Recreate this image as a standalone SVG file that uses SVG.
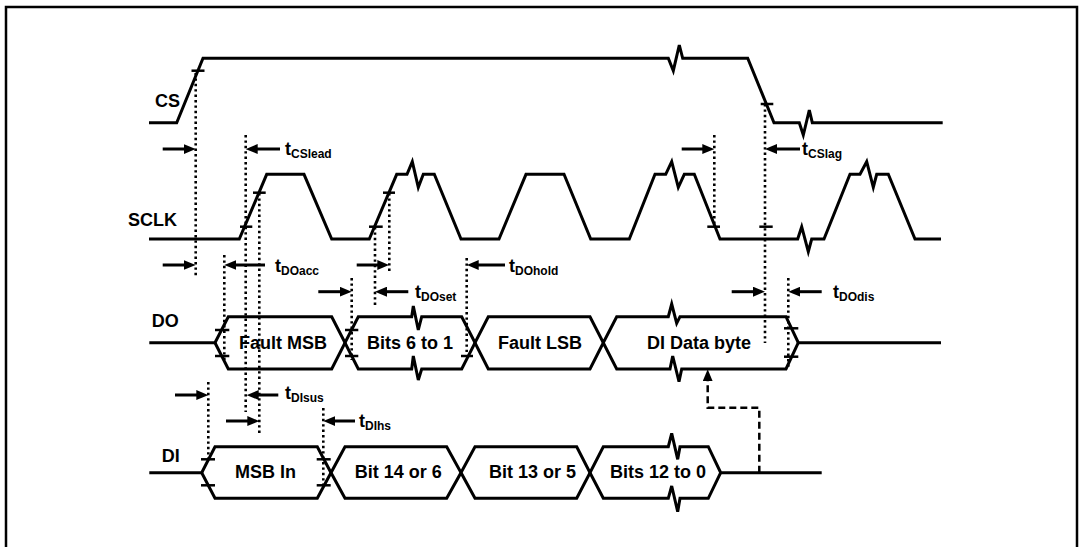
<svg xmlns="http://www.w3.org/2000/svg" width="1080" height="547" viewBox="0 0 1080 547">
<style>
.sig{fill:none;stroke:#000;stroke-width:3;stroke-linejoin:miter}
.tick{stroke:#000;stroke-width:2.5}
.dot{stroke:#000;stroke-width:2.6;stroke-dasharray:2.4 3;fill:none}
.arr{stroke:#000;stroke-width:3;marker-end:url(#ah)}
.dash{fill:none;stroke:#000;stroke-width:2.5;stroke-dasharray:7 4;marker-end:url(#ah)}
.lbl{font-family:"Liberation Sans",Arial,sans-serif;font-weight:bold;font-size:18px;fill:#000}
.box{font-family:"Liberation Sans",Arial,sans-serif;font-weight:bold;font-size:18px;fill:#000;text-anchor:middle}
.sub{font-size:12px}
</style>
<defs>
<marker id="ah" viewBox="0 0 12 10" refX="4" refY="5" markerWidth="12" markerHeight="10" markerUnits="userSpaceOnUse" orient="auto">
<path d="M0,0 L12,5 L0,10 z" fill="#000"/>
</marker>
</defs>
<rect width="1080" height="547" fill="#fff"/>
<path d="M6,548 V7 H1077 V548" fill="none" stroke="#000" stroke-width="2.5"/>

<g id="cs">
<path class="sig" d="M149,122.7 H176.7 L203,58.3 H668.3 L673.3,70.7 L679.3,45 L682.7,58.3 H747.7 L774,122.7 H799.3 L803.3,135 L809.3,110 L812.3,122.7 H942.7"/>
<line class="tick" x1="191.5" y1="70.7" x2="204.5" y2="70.7"/>
<line class="tick" x1="760.7" y1="104" x2="773.3" y2="104"/>
<text class="lbl" x="155" y="107">CS</text>
</g>

<g id="sclk">
<path class="sig" d="M149,239 H239.3 L266.7,174.3 H304 L331.7,239 H369.3 L396.7,174.3 H407 L412.3,161.7 L418.3,187.3 L423.3,174.3 H434.3 L461,239 H499 L526,174.3 H564 L590.7,239 H629.3 L655,174.3 H665.7 L671.7,161.7 L678.3,187.3 L684.3,174.3 H694.3 L720,239 H797.7 L801.7,226.7 L808.3,251.7 L811.7,239 H824 L850,174.3 H860 L866.7,161.7 L873.3,187.3 L876.7,174.3 H888.3 L915,239 H941"/>
<line class="tick" x1="240" y1="226.7" x2="252.3" y2="226.7"/>
<line class="tick" x1="253" y1="192.7" x2="265.7" y2="192.7"/>
<line class="tick" x1="369" y1="226.7" x2="382.7" y2="226.7"/>
<line class="tick" x1="383" y1="192.7" x2="395" y2="192.7"/>
<line class="tick" x1="707.3" y1="226.7" x2="720" y2="226.7"/>
<line class="tick" x1="759.3" y1="226.7" x2="772.7" y2="226.7"/>
<text class="lbl" x="128" y="226">SCLK</text>
</g>

<g id="do">
<path class="sig" d="M149.3,342.7 H215 L228.3,316.7 H331.7 L345,342.7 L358.3,316.7 H411.7 L413.3,306 L418.3,330 L421.7,316.7 H461.7 L475,342.7 L488.3,316.7 H590 L603.3,342.7 L616.7,316.7 H668.3 L671.7,304 L676.7,323.3 L680,316.7 H786 L798.3,342.7 H941"/>
<path class="sig" d="M215,342.7 L228.3,369 H331.7 L345,342.7 L358.3,369 H411.7 L413.3,356 L418.3,380 L421.7,369 H461.7 L475,342.7 L488.3,369 H590 L603.3,342.7 L616.7,369 H670 L672.7,356 L679,381.7 L681.7,369 H786 L798.3,342.7"/>
<line class="tick" x1="215" y1="330" x2="229.3" y2="330"/>
<line class="tick" x1="215" y1="356" x2="229.3" y2="356"/>
<line class="tick" x1="345" y1="330" x2="358.3" y2="330"/>
<line class="tick" x1="345" y1="356" x2="358.3" y2="356"/>
<line class="tick" x1="461" y1="356" x2="473" y2="356"/>
<line class="tick" x1="784" y1="328.3" x2="798.3" y2="328.3"/>
<line class="tick" x1="784" y1="356.7" x2="798.3" y2="356.7"/>
<text class="lbl" x="151.7" y="326.7">DO</text>
<text class="box" x="283" y="348.5">Fault MSB</text>
<text class="box" x="410" y="348.5">Bits 6 to 1</text>
<text class="box" x="540" y="348.5">Fault LSB</text>
<text class="box" x="699" y="348.5">DI Data byte</text>
</g>

<g id="di">
<path class="sig" d="M149.3,472.7 H201.7 L215,446.7 H317.3 L331,472.7 L345,446.7 H446.7 L461,472.7 L475,446.7 H576.7 L590,472.7 L603.3,446.7 H668.3 L671.7,433.3 L677.7,459.3 L680,446.7 H708.3 L720.7,472.7 H821.7"/>
<path class="sig" d="M201.7,472.7 L215,498.3 H317.3 L331,472.7 L345,498.3 H446.7 L461,472.7 L475,498.3 H576.7 L590,472.7 L603.3,498.3 H668.3 L671.7,486 L677.7,511.7 L680,498.3 H708.3 L720.7,472.7"/>
<line class="tick" x1="201" y1="459.3" x2="215" y2="459.3"/>
<line class="tick" x1="201" y1="485.3" x2="215" y2="485.3"/>
<line class="tick" x1="316.7" y1="459.3" x2="330.7" y2="459.3"/>
<line class="tick" x1="316.7" y1="485.3" x2="330.7" y2="485.3"/>
<text class="lbl" x="161.7" y="461.7">DI</text>
<text class="box" x="265.5" y="477.5">MSB In</text>
<text class="box" x="398.3" y="477.5">Bit 14 or 6</text>
<text class="box" x="532.5" y="477.5">Bit 13 or 5</text>
<text class="box" x="658" y="477.5">Bits 12 to 0</text>
</g>

<g id="connectors">
<line class="dot" x1="195.7" y1="73" x2="195.7" y2="278"/>
<line class="dot" x1="245.7" y1="135" x2="245.7" y2="412"/>
<line class="dot" x1="259.3" y1="193" x2="259.3" y2="435"/>
<line class="dot" x1="224.3" y1="255" x2="224.3" y2="360"/>
<line class="dot" x1="351.7" y1="278" x2="351.7" y2="360"/>
<line class="dot" x1="375" y1="227" x2="375" y2="305"/>
<line class="dot" x1="389.3" y1="193" x2="389.3" y2="272"/>
<line class="dot" x1="466.7" y1="258" x2="466.7" y2="352"/>
<line class="dot" x1="208.3" y1="382" x2="208.3" y2="460"/>
<line class="dot" x1="323.3" y1="408" x2="323.3" y2="485"/>
<line class="dot" x1="714.3" y1="135" x2="714.3" y2="227"/>
<line class="dot" x1="765" y1="104" x2="765" y2="343"/>
<line class="dot" x1="788.3" y1="278" x2="788.3" y2="367"/>

<line class="arr" x1="162.7" y1="149" x2="187.7" y2="149"/>
<line class="arr" x1="280" y1="149" x2="253.7" y2="149"/>
<line class="arr" x1="681.7" y1="149" x2="706.3" y2="149"/>
<line class="arr" x1="800" y1="149" x2="773" y2="149"/>
<line class="arr" x1="162.7" y1="265" x2="187.7" y2="265"/>
<line class="arr" x1="265" y1="265" x2="232.3" y2="265"/>
<line class="arr" x1="356.7" y1="265" x2="381.3" y2="265"/>
<line class="arr" x1="505" y1="265" x2="474.7" y2="265"/>
<line class="arr" x1="318.3" y1="291.7" x2="343.7" y2="291.7"/>
<line class="arr" x1="408.3" y1="291.7" x2="383" y2="291.7"/>
<line class="arr" x1="731.7" y1="291.7" x2="757" y2="291.7"/>
<line class="arr" x1="821.7" y1="291.7" x2="796.3" y2="291.7"/>
<line class="arr" x1="175" y1="395" x2="200.3" y2="395"/>
<line class="arr" x1="278.3" y1="395" x2="254.7" y2="395"/>
<line class="arr" x1="226" y1="421" x2="251.3" y2="421"/>
<line class="arr" x1="355" y1="421" x2="331.3" y2="421"/>
<path class="dash" d="M759.3,472.7 V407.7 H707.7 V377.3"/>

<text class="lbl" x="285" y="155">t<tspan class="sub" dy="3">CSlead</tspan></text>
<text class="lbl" x="802" y="155">t<tspan class="sub" dy="3">CSlag</tspan></text>
<text class="lbl" x="275" y="271.5">t<tspan class="sub" dy="3">DOacc</tspan></text>
<text class="lbl" x="509" y="271.5">t<tspan class="sub" dy="3">DOhold</tspan></text>
<text class="lbl" x="415" y="297.7">t<tspan class="sub" dy="3">DOset</tspan></text>
<text class="lbl" x="833" y="297.7">t<tspan class="sub" dy="3">DOdis</tspan></text>
<text class="lbl" x="285" y="399">t<tspan class="sub" dy="3">DIsus</tspan></text>
<text class="lbl" x="359" y="427">t<tspan class="sub" dy="3">DIhs</tspan></text>
</g>
</svg>
